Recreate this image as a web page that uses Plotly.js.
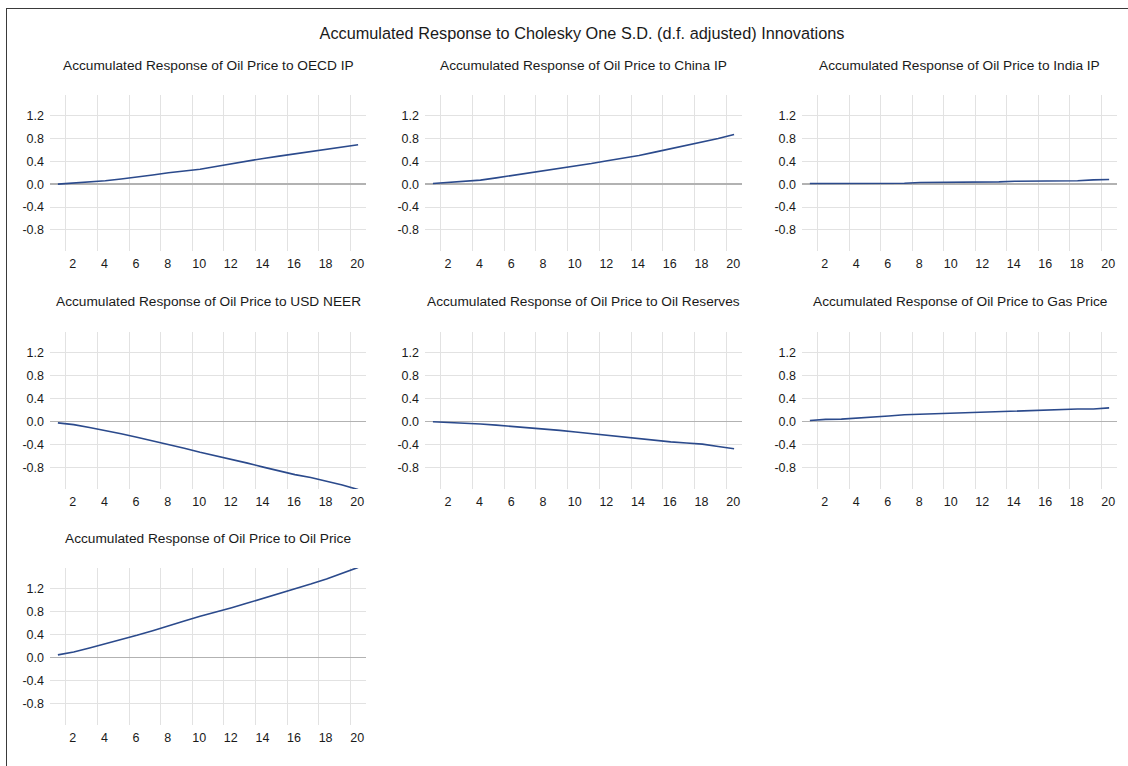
<!DOCTYPE html>
<html>
<head>
<meta charset="utf-8">
<script src="https://cdn.plot.ly/plotly-3.0.1.min.js"></script>
<style>
html,body{margin:0;padding:0;background:#fff;overflow:hidden}
#chart{position:absolute;left:0;top:0;width:1128px;height:766px}
#frame{position:absolute;left:6px;top:8px;width:1300px;height:900px;border-left:1.5px solid #3a3a3a;border-top:1.5px solid #3a3a3a;pointer-events:none;z-index:5}
</style>
</head>
<body>
<div id="chart"></div>
<div id="frame"></div>
<script>
// ---- data ----
const periods = [1,2,3,4,5,6,7,8,9,10,11,12,13,14,15,16,17,18,19,20];
const xTickLabels = ['2','4','6','8','10','12','14','16','18','20'];
const yTickVals = [-0.8,-0.4,0,0.4,0.8,1.2];
const yTickLabels = ['-0.8','-0.4','0.0','0.4','0.8','1.2'];

const mainTitle = 'Accumulated Response to Cholesky One S.D. (d.f. adjusted) Innovations';
const panelTitles = [
  'Accumulated Response of Oil Price to OECD IP',
  'Accumulated Response of Oil Price to China IP',
  'Accumulated Response of Oil Price to India IP',
  'Accumulated Response of Oil Price to USD NEER',
  'Accumulated Response of Oil Price to Oil Reserves',
  'Accumulated Response of Oil Price to Gas Price',
  'Accumulated Response of Oil Price to Oil Price'
];

const respOECD     = [0.00,0.02,0.03,0.06,0.09,0.12,0.16,0.20,0.23,0.26,0.31,0.36,0.40,0.45,0.49,0.53,0.57,0.61,0.65,0.69];
const respChina    = [0.01,0.03,0.05,0.07,0.11,0.15,0.19,0.23,0.27,0.31,0.36,0.41,0.45,0.50,0.56,0.62,0.67,0.73,0.80,0.87];
const respIndia    = [0.01,0.01,0.01,0.01,0.01,0.01,0.015,0.03,0.03,0.03,0.035,0.035,0.04,0.05,0.05,0.055,0.055,0.06,0.075,0.08];
const respUSD      = [-0.02,-0.05,-0.10,-0.15,-0.21,-0.27,-0.33,-0.39,-0.46,-0.53,-0.59,-0.65,-0.72,-0.79,-0.86,-0.92,-0.97,-1.03,-1.10,-1.18];
const respReserves = [0.00,-0.01,-0.02,-0.04,-0.06,-0.08,-0.10,-0.12,-0.15,-0.18,-0.21,-0.24,-0.26,-0.29,-0.32,-0.35,-0.37,-0.39,-0.43,-0.47];
const respGas      = [0.02,0.04,0.045,0.06,0.08,0.10,0.12,0.13,0.14,0.15,0.16,0.17,0.18,0.19,0.19,0.21,0.21,0.22,0.22,0.24];
const respOil      = [0.05,0.10,0.17,0.24,0.32,0.39,0.47,0.56,0.64,0.72,0.79,0.87,0.95,1.03,1.11,1.20,1.28,1.37,1.47,1.57];

const series = [respOECD, respChina, respIndia, respUSD, respReserves, respGas, respOil];

// ---- layout geometry (pixels) ----
const W = 1128, H = 766;
const colPx = [[50,366],[425,742],[802,1117]];
const rowPx = [[95,251],[332,489],[568,725]];

const lineColor = '#2b4a8c';
const gridColor = '#e2e2e2';
const zeroColor = '#b2b2b2';
const textColor = '#1a1a1a';
const baseFont = 'Liberation Sans, Arial, sans-serif';

const traces = [];
const layout = {
  width: W, height: H,
  margin: {l:0, r:0, t:0, b:0},
  paper_bgcolor: '#ffffff',
  plot_bgcolor: '#ffffff',
  showlegend: false,
  font: {family: baseFont, color: textColor, size: 12},
  title: {
    text: mainTitle,
    font: {family: baseFont, size: 16.3, color: textColor},
    x: 582 / W, xanchor: 'center',
    y: 1 - 33 / H, yanchor: 'middle',
    xref: 'paper', yref: 'paper'
  },
  annotations: []
};

const xTickVals = xTickLabels.map(t => Number(t) - 0.5);

series.forEach((vals, i) => {
  const r = Math.floor(i / 3), c = i % 3;
  const n = i + 1;
  const xa = n === 1 ? 'xaxis' : 'xaxis' + n;
  const ya = n === 1 ? 'yaxis' : 'yaxis' + n;
  const xr = n === 1 ? 'x' : 'x' + n;
  const yr = n === 1 ? 'y' : 'y' + n;
  traces.push({
    type: 'scatter', mode: 'lines',
    x: periods, y: vals,
    xaxis: xr, yaxis: yr,
    line: {color: lineColor, width: 1.6},
    hoverinfo: 'x+y'
  });
  layout[xa] = {
    domain: [colPx[c][0] / W, colPx[c][1] / W],
    anchor: yr,
    range: [0.5, 20.5],
    tickmode: 'array',
    tickvals: xTickVals,
    ticktext: xTickLabels,
    ticklabelshift: 7,
    ticklabelstandoff: 3,
    ticks: '',
    showgrid: true, gridcolor: gridColor, gridwidth: 1,
    zeroline: false, showline: false,
    tickfont: {family: baseFont, size: 12.5, color: textColor},
    fixedrange: true
  };
  layout[ya] = {
    domain: [1 - rowPx[r][1] / H, 1 - rowPx[r][0] / H],
    anchor: xr,
    range: [-1.17, 1.56],
    tickmode: 'array',
    tickvals: yTickVals,
    ticktext: yTickLabels,
    ticks: '',
    ticklabelstandoff: 5,
    showgrid: true, gridcolor: gridColor, gridwidth: 1,
    zeroline: true, zerolinecolor: zeroColor, zerolinewidth: 1.4,
    showline: false,
    tickfont: {family: baseFont, size: 12.5, color: textColor},
    fixedrange: true
  };
  layout.annotations.push({
    text: panelTitles[i],
    xref: xr + ' domain', yref: yr + ' domain',
    x: 0.5, y: 1, xanchor: 'center', yanchor: 'middle',
    yshift: 30,
    showarrow: false,
    font: {family: baseFont, size: 13.7, color: textColor}
  });
});

Plotly.newPlot('chart', traces, layout, {staticPlot: true, displayModeBar: false});
</script>
</body>
</html>
